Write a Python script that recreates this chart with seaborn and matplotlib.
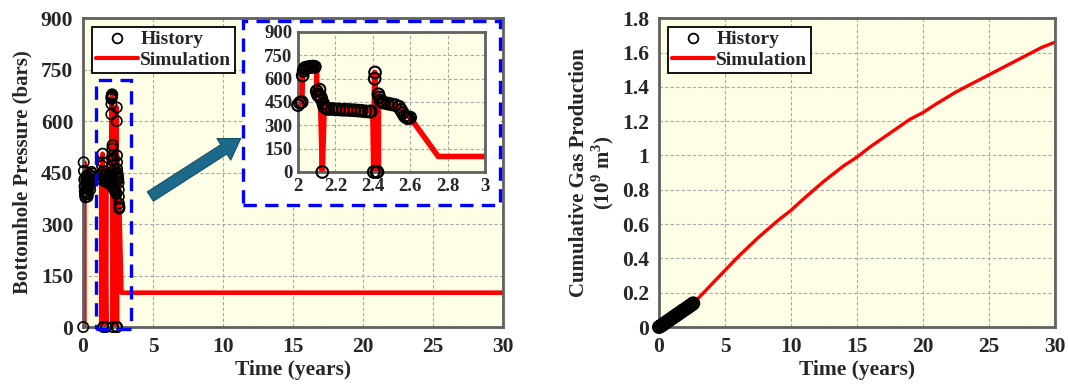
import matplotlib
matplotlib.use("Agg")
import matplotlib.pyplot as plt
from matplotlib.lines import Line2D
from matplotlib.patches import Rectangle, FancyArrowPatch
from matplotlib.ticker import FuncFormatter
import pandas as pd
import seaborn as sb

# Bottomhole pressure history (years, bars)
hist_t = [0.02, 0.05, 0.07, 0.09, 0.11, 0.13, 0.15, 0.17, 0.19, 0.21, 0.23, 0.25, 0.27, 0.29,
          0.31, 0.33, 0.35, 0.37, 0.39, 0.41, 0.43, 0.45, 0.48, 0.51, 0.54, 0.57, 0.60, 0.63,
          0.66, 0.70,
          1.30, 1.33, 1.36, 1.40, 1.43, 1.45, 1.47, 1.50, 1.53, 1.56, 1.60, 1.63, 1.66, 1.68,
          1.72, 1.76, 1.80, 1.84, 1.88, 1.92, 1.96,
          2.00, 2.01, 2.02, 2.025, 2.03, 2.035, 2.04, 2.05, 2.06, 2.07, 2.08, 2.09, 2.10, 2.105,
          2.11, 2.115, 2.12, 2.125, 2.13, 2.135, 2.14, 2.15, 2.16, 2.18, 2.20, 2.22, 2.24, 2.26,
          2.28, 2.30, 2.32, 2.34, 2.36, 2.38, 2.39, 2.405, 2.41, 2.412, 2.42, 2.425, 2.43, 2.435,
          2.44, 2.45, 2.46, 2.48, 2.50, 2.52, 2.54, 2.55, 2.56, 2.57, 2.58, 2.59, 2.60]
hist_p = [0, 480, 455, 430, 410, 395, 385, 378, 392, 415, 430, 440, 425, 405,
          390, 380, 388, 402, 420, 435, 445, 430, 412, 400, 418, 438, 452, 448,
          440, 430,
          430, 445, 470, 505, 480, 0, 455, 440, 425, 430, 445, 440, 0, 430,
          425, 420, 435, 440, 430, 425, 440,
          430, 445, 450, 620, 650, 665, 670, 672, 675, 675, 678, 676, 520, 500,
          490, 530, 485, 470, 0, 440, 420, 410, 405, 405, 403, 402, 400, 400,
          398, 397, 395, 393, 390, 388, 390, 0, 600, 640, 0, 0, 500, 480,
          460, 450, 445, 440, 435, 430, 420, 400, 380, 360, 350, 345, 350]

# Simulated bottomhole pressure (segment id breaks the line)
sim_t = [0, 0.1, 0.1, 0.3, 0.5, 0.7,
         1.3, 1.3, 1.4, 1.45, 1.47, 1.55, 1.66, 1.68, 2.0, 2.02, 2.025, 2.04, 2.10, 2.10,
         2.12, 2.13, 2.14, 2.2, 2.3, 2.4, 2.405, 2.41, 2.42, 2.43, 2.43, 2.45, 2.5, 2.55,
         2.6, 2.75, 30]
sim_p = [0, 0, 480, 400, 420, 430,
         0, 430, 505, 0, 460, 430, 0, 430, 435, 440, 640, 670, 680, 520,
         490, 0, 420, 403, 397, 390, 0, 640, 0, 0, 500, 450, 435, 410,
         350, 100, 100]
sim_seg = [0] * 6 + [1] * 31

# Cumulative gas production (years, 10^9 m3)
cum_hist_t = [0.0, 0.1, 0.2, 0.3, 0.4, 0.5, 0.6, 0.7, 0.8, 0.9, 1.0, 1.1, 1.2, 1.3,
              1.4, 1.5, 1.6, 1.7, 1.8, 1.9, 2.0, 2.1, 2.2, 2.3, 2.4, 2.5, 2.6]
cum_hist_v = [0.0, 0.004, 0.009, 0.014, 0.02, 0.025, 0.031, 0.036, 0.041, 0.047, 0.052,
              0.057, 0.063, 0.068, 0.073, 0.079, 0.084, 0.089, 0.095, 0.100, 0.105,
              0.110, 0.116, 0.121, 0.127, 0.132, 0.138]
cum_sim_t = [0, 1, 2, 2.7, 4, 5, 6, 7.5, 9, 10, 11, 12.5, 14, 15, 16, 17.5, 19, 20, 21,
             22.5, 24, 25, 26, 27.5, 29, 30]
cum_sim_v = [0, 0.05, 0.10, 0.145, 0.25, 0.33, 0.41, 0.52, 0.62, 0.68, 0.75, 0.85, 0.94,
             0.99, 1.05, 1.13, 1.21, 1.25, 1.30, 1.37, 1.43, 1.47, 1.51, 1.57, 1.63, 1.66]

BG = "#fefee6"
SPINE = "#606060"

sb.set_style("ticks")
plt.rcParams["font.family"] = ["Liberation Serif", "DejaVu Serif"]
plt.rcParams["font.weight"] = "bold"
plt.rcParams["axes.labelweight"] = "bold"
plt.rcParams["mathtext.fontset"] = "custom"
plt.rcParams["mathtext.rm"] = "Liberation Serif:bold"
plt.rcParams["mathtext.bf"] = "Liberation Serif:bold"


def style_axes(ax, size=15.5):
    ax.set_facecolor(BG)
    ax.grid(True, color="#a8a8a8", linestyle=(0, (3, 2)), linewidth=0.8)
    ax.set_axisbelow(True)
    for s in ax.spines.values():
        s.set_visible(True)
        s.set_color(SPINE)
        s.set_linewidth(2)
    ax.tick_params(length=0, labelsize=size, pad=7)


def make_legend(ax):
    handles = [Line2D([], [], marker="o", ls="none", mfc="none", mec="black", ms=7, mew=1.3),
               Line2D([], [], color="red", lw=3)]
    leg = ax.legend(handles, ["History", "Simulation"], loc="upper left", fontsize=14,
                    frameon=True, fancybox=False, framealpha=1, edgecolor="black",
                    borderaxespad=0.45, handlelength=2.2, handletextpad=0.1,
                    borderpad=0.2, labelspacing=0.15)
    leg.get_frame().set_linewidth(1.3)


sim_df = pd.DataFrame({"t": sim_t, "p": sim_p, "seg": sim_seg})
hist_df = pd.DataFrame({"t": hist_t, "p": hist_p})

fig = plt.figure(figsize=(10.68, 3.87), dpi=100)
ax1 = fig.add_axes([0.0777, 0.155, 0.3933, 0.798])
ax2 = fig.add_axes([0.617, 0.155, 0.3708, 0.798])

# Left: bottomhole pressure
sb.lineplot(data=sim_df, x="t", y="p", units="seg", estimator=None, sort=False,
            color="red", lw=3.3, ax=ax1)
sb.scatterplot(data=hist_df, x="t", y="p", marker="o", s=55, fc="none", ec="black",
               linewidth=1.2, ax=ax1, zorder=3, clip_on=False)
ax1.set_xlim(0, 30)
ax1.set_ylim(0, 900)
ax1.set_xticks(range(0, 31, 5))
ax1.set_yticks(range(0, 901, 150))
style_axes(ax1)
ax1.set_xlabel("Time (years)", fontsize=15.5, labelpad=2)
ax1.set_ylabel("Bottomhole Pressure (bars)", fontsize=15, labelpad=6)
make_legend(ax1)
ax1.add_patch(Rectangle((0.9, -5), 2.5, 725, fill=False, ec="blue", lw=2.4,
                        ls=(0, (4, 2.5)), clip_on=False, zorder=5))

# Right: cumulative gas
sb.lineplot(x=cum_sim_t, y=cum_sim_v, color="red", lw=2.4, ax=ax2)
sb.scatterplot(x=cum_hist_t, y=cum_hist_v, marker="o", s=75, fc="none", ec="black",
               linewidth=1.4, ax=ax2, zorder=3, clip_on=False)
ax2.set_xlim(0, 30)
ax2.set_ylim(0, 1.8)
ax2.set_xticks(range(0, 31, 5))
ax2.set_yticks([0, 0.2, 0.4, 0.6, 0.8, 1.0, 1.2, 1.4, 1.6, 1.8])
ax2.yaxis.set_major_formatter(FuncFormatter(lambda v, _: f"{v:g}"))
style_axes(ax2)
ax2.set_xlabel("Time (years)", fontsize=15.5, labelpad=2)
ax2.set_ylabel("Cumulative Gas Production\n(10$^9$ m$^3$)", fontsize=15, linespacing=1.05)
make_legend(ax2)

# Zoom box, arrow and inset
W, H = 1068, 387
box = Rectangle((243 / W, 1 - 205 / H), 257 / W, 184 / H, transform=fig.transFigure,
                fc="white", ec="blue", lw=2.4, ls=(0, (4, 2.5)), zorder=1)
fig.add_artist(box)
arrow = FancyArrowPatch((148 / W, 1 - 198 / H), (243 / W, 1 - 137 / H),
                        transform=fig.transFigure,
                        arrowstyle="simple,head_length=0.9,head_width=1.15,tail_width=0.5",
                        mutation_scale=16, fc="#1b6a89", ec="#134f66", lw=0.8, zorder=2)
fig.add_artist(arrow)

ax3 = fig.add_axes([298 / W, 1 - 172 / H, 187 / W, 140 / H], zorder=3)
sb.lineplot(data=sim_df, x="t", y="p", units="seg", estimator=None, sort=False,
            color="red", lw=4, ax=ax3)
sb.scatterplot(data=hist_df[hist_df["t"] >= 1.99], x="t", y="p", marker="o", s=70,
               fc="none", ec="black", linewidth=1.5, ax=ax3, zorder=3, clip_on=False)
ax3.set_xlim(2, 3)
ax3.set_ylim(0, 900)
ax3.set_xticks([2, 2.2, 2.4, 2.6, 2.8, 3])
ax3.set_yticks(range(0, 901, 150))
ax3.xaxis.set_major_formatter(FuncFormatter(lambda v, _: f"{v:g}"))
style_axes(ax3, size=13.5)
ax3.tick_params(pad=4)
ax3.set_xlabel("")
ax3.set_ylabel("")

fig.savefig("out.png", dpi=100)
